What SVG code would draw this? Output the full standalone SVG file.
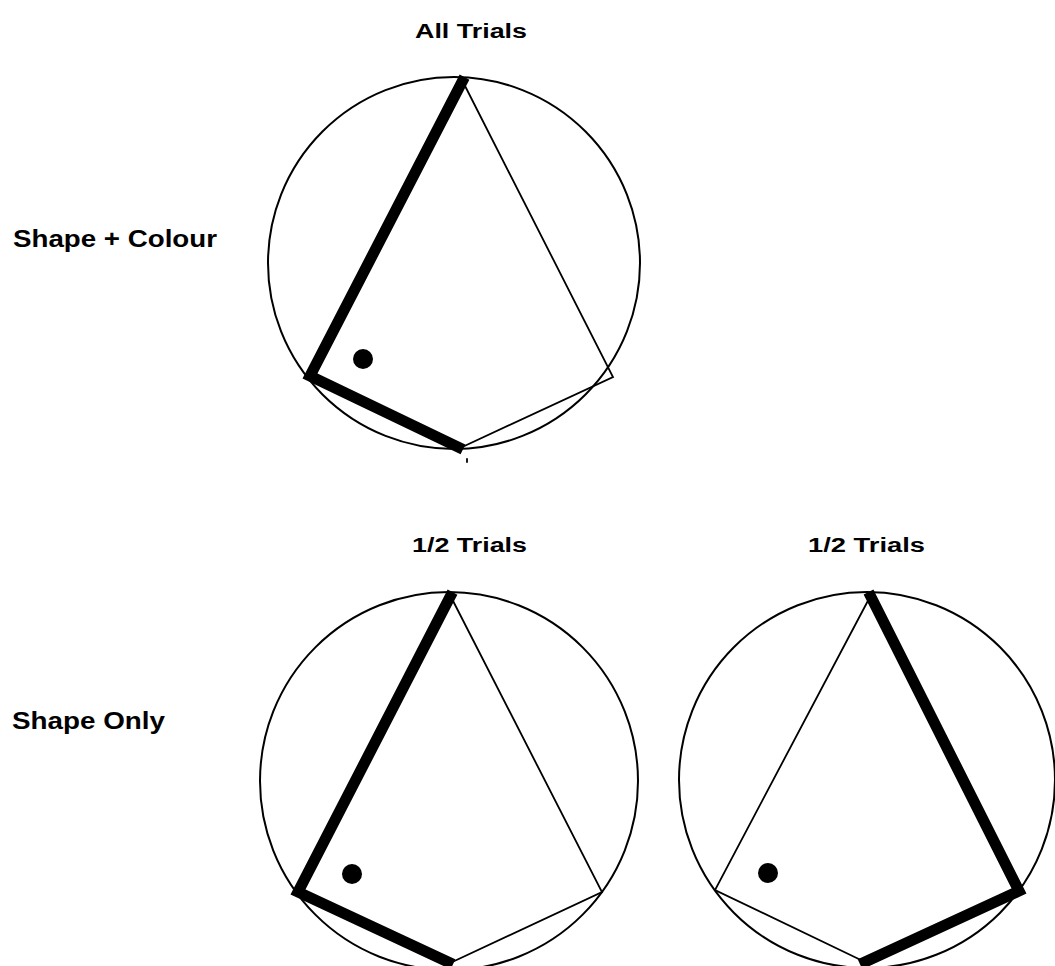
<svg xmlns="http://www.w3.org/2000/svg" width="1055" height="966" viewBox="0 0 1055 966">
<style>
.bg{fill:#fff}
.circ{fill:none;stroke:#000;stroke-width:2}
.thin{stroke:#000;stroke-width:1.8;fill:none;stroke-linecap:round}
.thick{stroke:#000;stroke-width:11;fill:none;stroke-linecap:square;stroke-linejoin:miter}
.dot{fill:#000}
.lbl{font-family:"Liberation Sans",Arial,sans-serif;font-weight:bold;fill:#000}
.top{font-size:20px}
.side{font-size:24px}
</style>
<rect class="bg" x="0" y="0" width="1055" height="966"/>
<g id="labels">
<text class="lbl top" x="415" y="38" textLength="112" lengthAdjust="spacingAndGlyphs">All Trials</text>
<text class="lbl side" x="13" y="247" textLength="204" lengthAdjust="spacingAndGlyphs">Shape + Colour</text>
<text class="lbl side" x="12" y="729" textLength="153" lengthAdjust="spacingAndGlyphs">Shape Only</text>
<text class="lbl top" x="412" y="552" textLength="115" lengthAdjust="spacingAndGlyphs">1/2 Trials</text>
<text class="lbl top" x="808" y="552" textLength="117" lengthAdjust="spacingAndGlyphs">1/2 Trials</text>
</g>
<g id="top">
<circle class="circ" cx="454" cy="263" r="186"/>
<polyline class="thin" points="462,80 613,377 458,449"/>
<polyline class="thick" points="462,82 310,376 458,447"/>
<circle class="dot" cx="363" cy="359" r="10"/>
<line class="thin" x1="467" y1="459" x2="467" y2="462"/>
</g>
<g id="bottom-left">
<circle class="circ" cx="449" cy="781" r="189"/>
<polyline class="thin" points="450,595 602,892 448,964"/>
<polyline class="thick" points="450,597 298,892 448,962"/>
<circle class="dot" cx="352" cy="874" r="10"/>
</g>
<g id="bottom-right">
<circle class="circ" cx="867" cy="780" r="188"/>
<polyline class="thin" points="871,595 715,890 865,962"/>
<polyline class="thick" points="871,597 1019,891 865,962"/>
<circle class="dot" cx="768" cy="873" r="10"/>
</g>
</svg>
